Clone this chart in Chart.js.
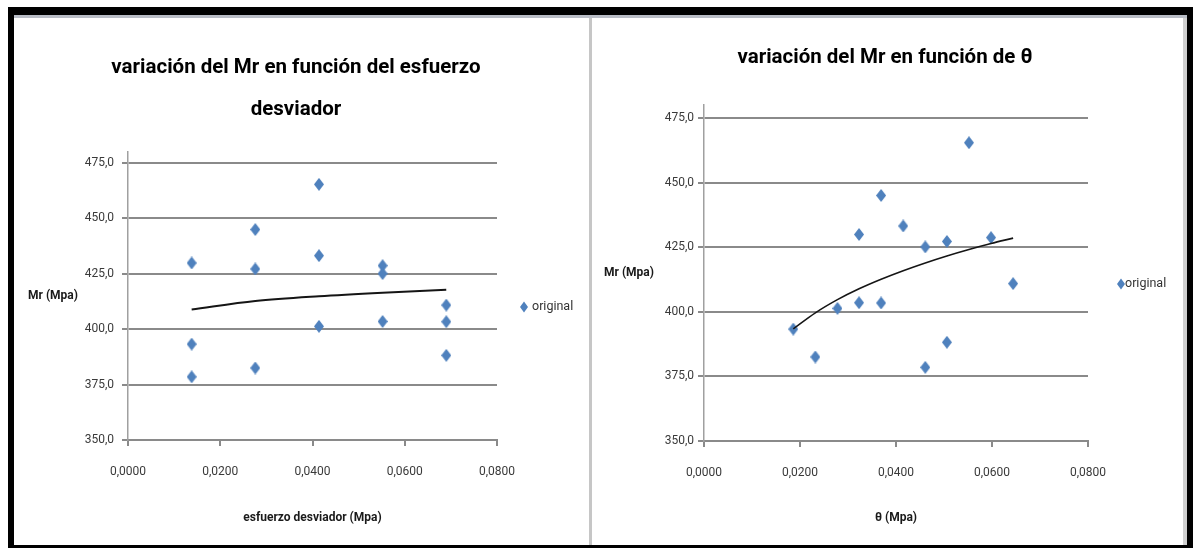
<!DOCTYPE html>
<html>
<head>
<meta charset="utf-8">
<script src="https://cdn.jsdelivr.net/npm/chart.js@4"></script>
<style>
  html, body { margin: 0; padding: 0; background: #fff; width: 1193px; height: 548px; overflow: hidden; }
  #frame { position: absolute; left: 8px; top: 7px; width: 1185px; height: 541px; box-sizing: border-box;
           border-style: solid; border-color: #000; border-width: 8px 6px 3px 6px; }
  #topline { position: absolute; left: 14px; top: 15px; width: 1173px; height: 3px; background: #b9bdc6; }
  #rightline { position: absolute; left: 1183px; top: 18px; width: 4px; height: 527px; background: #d0d0d0; }
  #sep { position: absolute; left: 589px; top: 18px; width: 3px; height: 527px; background: #c6c6c6; }
  .panel { position: absolute; top: 18px; height: 527px; }
  #p1 { left: 14px; width: 575px; }
  #p2 { left: 592px; width: 591px; }
  canvas { display: block; }
</style>
</head>
<body>
<div id="frame"></div>
<div id="topline"></div>
<div id="rightline"></div>
<div id="sep"></div>
<div class="panel" id="p1"><canvas id="c1" width="575" height="527"></canvas></div>
<div class="panel" id="p2"><canvas id="c2" width="591" height="527"></canvas></div>
<script>
// ---- data ----
const seriesLabel = 'original';
const mrValues       = [429.9, 393.3, 378.5, 445.0, 427.2, 382.5, 465.4, 433.2, 401.3, 428.7, 425.1, 403.5, 410.9, 403.4, 388.2];
const esfuerzoValues = [0.0138, 0.0138, 0.0138, 0.0276, 0.0276, 0.0276, 0.0414, 0.0414, 0.0414, 0.0552, 0.0552, 0.0552, 0.0690, 0.0690, 0.0690];
const thetaValues    = [0.0323, 0.0186, 0.0461, 0.0369, 0.0506, 0.0232, 0.0552, 0.0415, 0.0278, 0.0598, 0.0461, 0.0323, 0.0644, 0.0369, 0.0506];

// trend lines
const esfTrendX   = [0.0138, 0.0276, 0.0414, 0.0552, 0.0690];
const esfTrendY   = [408.9, 412.7, 414.9, 416.5, 417.8];
const thetaTrendX = [0.0186, 0.0232, 0.0278, 0.0323, 0.0369, 0.0415, 0.0461, 0.0506, 0.0552, 0.0598, 0.0644];
const thetaTrendY = [393.4, 399.6, 404.7, 408.9, 412.6, 415.9, 418.9, 421.6, 424.1, 426.4, 428.5];

const yTickValues = [350, 375, 400, 425, 450, 475];
const xTickValues = [0, 0.02, 0.04, 0.06, 0.08];

const titleLeft  = ['variación del Mr en función del esfuerzo', 'desviador'];
const titleRight = 'variación del Mr en función de θ';
const xTitleLeft  = 'esfuerzo desviador (Mpa)';
const xTitleRight = 'θ (Mpa)';
const yTitle = 'Mr (Mpa)';

// ---- styling ----
const FONT = "Roboto, 'Liberation Sans', sans-serif";
const BLUE = '#4F81BD';
const GRID = '#8a8a8a';
Chart.defaults.font.family = FONT;

function diamondCanvas(w, h, color) {
  const c = document.createElement('canvas');
  c.width = w; c.height = h;
  const g = c.getContext('2d');
  g.fillStyle = color;
  g.beginPath();
  g.moveTo(w / 2, 0); g.lineTo(w, h / 2); g.lineTo(w / 2, h); g.lineTo(0, h / 2);
  g.closePath(); g.fill();
  return c;
}
const marker = diamondCanvas(10, 13, BLUE);

const extras = {
  id: 'extras',
  afterDraw(chart, args, o) {
    const { ctx, chartArea: a } = chart;
    const cy = (a.top + a.bottom) / 2;
    ctx.save();
    // horizontal y-axis title
    ctx.font = 'bold 12px ' + FONT;
    ctx.fillStyle = '#1a1a1a';
    ctx.textAlign = 'center';
    ctx.textBaseline = 'middle';
    ctx.fillText(o.yTitle, a.left - o.yTitleOffset, cy);
    // legend
    const ly = cy + 11;
    const mx = a.right + o.markerOffset;
    ctx.fillStyle = BLUE;
    ctx.beginPath();
    ctx.moveTo(mx, ly - 5.5); ctx.lineTo(mx + 4, ly); ctx.lineTo(mx, ly + 5.5); ctx.lineTo(mx - 4, ly);
    ctx.closePath(); ctx.fill();
    ctx.font = '12.5px ' + FONT;
    ctx.fillStyle = '#333';
    ctx.textAlign = 'left';
    ctx.fillText(chart.data.datasets[1].label, a.right + o.textOffset, ly);
    ctx.restore();
  }
};

function makeChart(id, cfg) {
  const pts = cfg.xs.map((x, i) => ({ x: x, y: mrValues[i] }));
  const trend = cfg.tx.map((x, i) => ({ x: x, y: cfg.ty[i] }));
  return new Chart(document.getElementById(id), {
    type: 'scatter',
    data: {
      datasets: [
        { label: 'trend', data: trend, showLine: true, pointRadius: 0, borderColor: '#151515',
          borderWidth: cfg.trendWidth, cubicInterpolationMode: 'monotone', order: 0 },
        { label: seriesLabel, data: pts, pointStyle: marker, pointRadius: 5, backgroundColor: BLUE,
          borderColor: BLUE, order: 1 }
      ]
    },
    options: {
      responsive: false,
      animation: false,
      layout: { padding: { left: 0, right: cfg.padR, top: 0, bottom: 0 } },
      plugins: {
        legend: { display: false },
        tooltip: { enabled: false },
        title: {
          display: true, text: cfg.title, color: '#000',
          font: { size: 20.5, weight: 'bold', lineHeight: '42px' },
          padding: { top: cfg.titleTop, bottom: cfg.titleBottom }
        },
        extras: { yTitle: yTitle, yTitleOffset: 75, markerOffset: cfg.markerOffset, textOffset: cfg.textOffset }
      },
      scales: {
        x: {
          type: 'linear', min: 0, max: 0.08,
          afterBuildTicks: s => { s.ticks = xTickValues.map(v => ({ value: v })); },
          afterFit: s => { s.height = cfg.xAxisH; },
          ticks: { color: '#3a3a3a', font: { size: 12 }, padding: 19,
                   callback: v => Number(v).toFixed(4).replace('.', ',') },
          grid: { drawOnChartArea: false, drawTicks: true, tickLength: 6, color: GRID, lineWidth: 2 },
          border: { color: GRID, width: 2 },
          title: { display: true, text: cfg.xTitle, color: '#1a1a1a',
                   font: { size: 12, weight: 'bold' }, padding: { top: 0, bottom: 20 } }
        },
        y: {
          type: 'linear', min: 350, max: 480,
          afterBuildTicks: s => { s.ticks = yTickValues.map(v => ({ value: v })); },
          afterFit: s => { s.width = cfg.yAxisW; },
          ticks: { color: '#3a3a3a', font: { size: 12 }, padding: cfg.yPad,
                   callback: v => Number(v).toFixed(1).replace('.', ',') },
          grid: { drawTicks: true, tickLength: 6, color: GRID, lineWidth: 2 },
          border: { color: '#a0a0a0', width: 1.5 }
        },
        spacer: {
          type: 'linear', position: 'right', display: true,
          afterFit: s => { s.width = cfg.spacerW; },
          ticks: { display: false }, grid: { display: false }, border: { display: false }
        }
      }
    },
    plugins: [extras]
  });
}

makeChart('c1', {
  xs: esfuerzoValues, tx: esfTrendX, ty: esfTrendY, trendWidth: 2,
  title: titleLeft, titleTop: 29, titleBottom: 21,
  xTitle: xTitleLeft, padR: 11, yAxisW: 114, spacerW: 81, xAxisH: 105, yPad: 8,
  markerOffset: 27, textOffset: 35
});
makeChart('c2', {
  xs: thetaValues, tx: thetaTrendX, ty: thetaTrendY, trendWidth: 1.6,
  title: titleRight, titleTop: 19, titleBottom: 26,
  xTitle: xTitleRight, padR: 5, yAxisW: 112, spacerW: 90, xAxisH: 104, yPad: 4,
  markerOffset: 33, textOffset: 37
});
</script>
</body>
</html>
